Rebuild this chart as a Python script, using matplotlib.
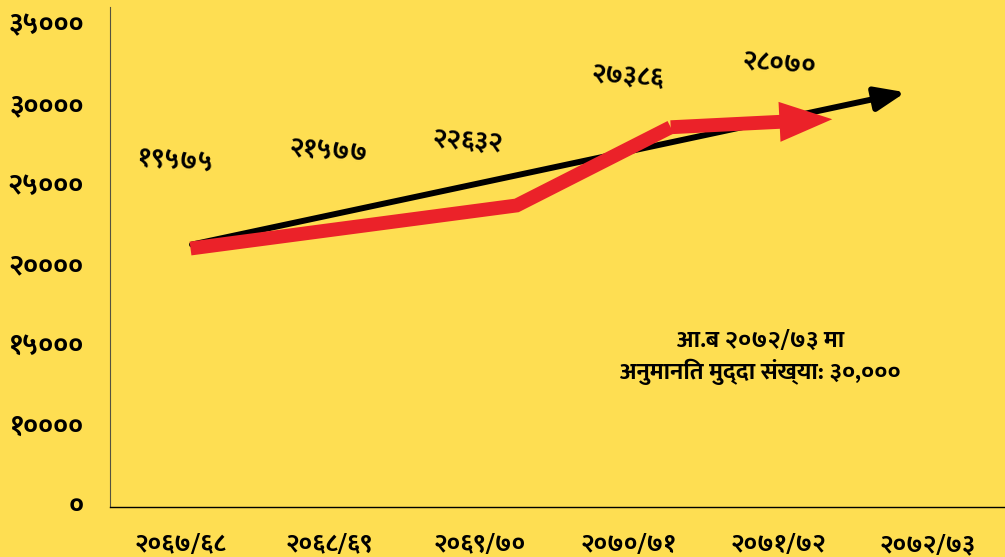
import matplotlib
matplotlib.use("Agg")
import matplotlib.pyplot as plt

# fiscal years on the x axis
years = ["२०६७/६८", "२०६८/६९", "२०६९/७०", "२०७०/७१", "२०७१/७२", "२०७२/७३"]

# y ticks (the axis jumps from 0 straight to 10000, so "0" sits one step below)
ytick_vals = [5000, 10000, 15000, 20000, 25000, 30000, 35000]
ytick_labels = ["०", "१००००", "१५०००", "२००००", "२५०००", "३००००", "३५०००"]

red_x = [0.07, 2.25, 3.28, 4.36]
red_y = [20875, 23560, 28440, 28940]

# black trend arrow
trend_x = [0.08, 4.85]
trend_y = [21120, 30620]

# value labels and where they sit
label_text = ["१९५७५", "२१५७७", "२२६३२", "२७३८६", "२८०७०"]
label_x = [-0.03, 0.99, 1.92, 2.99, 4.0]
label_y = [26250, 26940, 27560, 31560, 32380]

note = "आ.ब २०७२/७३ मा\nअनुमानित मुद्दा संख्या: ३०,०००"

fonts = ["Mukta", "Noto Sans Devanagari", "DejaVu Sans"]
plt.rcParams["font.family"] = fonts

bg = "#FEDE52"
fig = plt.figure(figsize=(10.05, 5.57), dpi=100, facecolor=bg)
ax = fig.add_axes([0.1095, 0.0898, 0.8905, 0.8976])
ax.set_facecolor(bg)

ax.set_xlim(-0.468, 5.515)
ax.set_ylim(4750, 35940)

# black trend line with arrow
ax.annotate("", xy=(trend_x[1], trend_y[1]), xytext=(trend_x[0], trend_y[0]),
            arrowprops=dict(arrowstyle="-|>,head_length=0.6,head_width=0.24",
                            mutation_scale=30, lw=4.3, color="black",
                            shrinkA=0, shrinkB=0), zorder=2)

# red line + fat arrow head
ax.plot(red_x[:3], red_y[:3], color="#EB2229", lw=10, solid_joinstyle="miter",
        solid_capstyle="butt", zorder=3)
ax.annotate("", xy=(red_x[3], red_y[3]), xytext=(red_x[2], red_y[2]),
            arrowprops=dict(arrowstyle="simple,head_length=0.95,head_width=0.72,tail_width=0.25",
                            mutation_scale=40, lw=0, color="#EB2229",
                            shrinkA=0, shrinkB=0), zorder=3)

for t, x, y in zip(label_text, label_x, label_y):
    ax.text(x, y, t, ha="center", va="center", fontsize=19, fontweight="bold",
            rotation=-4, zorder=4)

ax.text(0.727, 0.30, note, transform=ax.transAxes, ha="center", va="center",
        fontsize=17.5, fontweight="bold", linespacing=1.25)

ax.set_xticks(range(len(years)))
ax.set_xticklabels(years, fontsize=18, fontweight="bold")
ax.set_yticks(ytick_vals)
ax.set_yticklabels(ytick_labels, fontsize=20, fontweight="bold")
ax.tick_params(length=0)
ax.tick_params(axis="x", pad=19)
ax.tick_params(axis="y", pad=19)

for s in ["top", "right"]:
    ax.spines[s].set_visible(False)
ax.spines["left"].set_color("#55523f")
ax.spines["left"].set_linewidth(0.8)
ax.spines["bottom"].set_color("black")
ax.spines["bottom"].set_linewidth(1.0)

fig.savefig("out.png", dpi=100, facecolor=bg)
